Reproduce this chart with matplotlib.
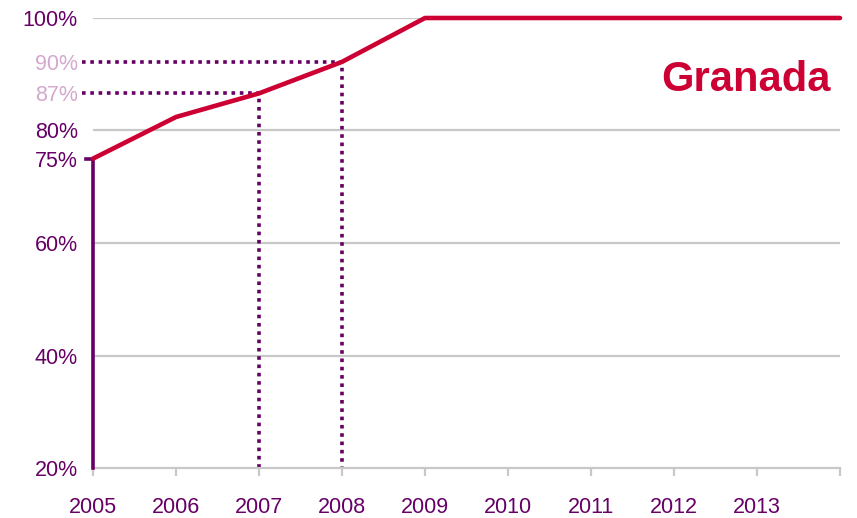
import matplotlib
matplotlib.use("Agg")
import matplotlib.pyplot as plt

# ========= DATOS ==========
anios = [2005, 2006, 2007, 2008, 2009, 2010, 2011, 2012, 2013, 2014]
cobertura = [75, 82.4, 86.6, 92.2, 100, 100, 100, 100, 100, 100]
etiquetas_x = ["2005", "2006", "2007", "2008", "2009", "2010", "2011", "2012", "2013", ""]
grid_y = [20, 40, 60, 80, 100]
# (año, nivel dibujado, etiqueta)
marcas = [(2007, 86.6, "87%"), (2008, 92.2, "90%")]
inicio = (2005, 75)
titulo = "Granada"
# ==========================

MORADO = "#660066"
ROJO = "#CC0033"
ROSA = "#D4A8CF"
GRIS = "#C8C8C8"

plt.rcParams["font.family"] = ["Liberation Sans", "DejaVu Sans"]

fig = plt.figure(figsize=(8.57, 5.18), dpi=100)
ax = fig.add_axes([93 / 857, 50 / 518, 747 / 857, 450 / 518])
ax.set_xlim(anios[0], anios[-1])
ax.set_ylim(20, 100)

# lineas de cuadricula
for g in grid_y[1:]:
    ax.axhline(g, color=GRIS, lw=1.6, zorder=1)

# marcas punteadas
for x, y, _ in marcas:
    ax.plot([anios[0] - 0.13, x, x], [y, y, grid_y[0]], color=MORADO, lw=2.6,
            linestyle=(0, (1, 1.3)), dash_capstyle="butt", clip_on=False, zorder=2)

# linea solida inicial
ax.plot([inicio[0] - 0.085, inicio[0], inicio[0]], [inicio[1], inicio[1], grid_y[0]],
        color=MORADO, lw=2.6, clip_on=False, solid_joinstyle="miter", zorder=3)

# serie principal
ax.plot(anios, cobertura, color=ROJO, lw=3.3, solid_capstyle="round", clip_on=False, zorder=4)

# ejes
for s in ["top", "right", "left"]:
    ax.spines[s].set_visible(False)
ax.spines["bottom"].set_color(GRIS)
ax.spines["bottom"].set_linewidth(1.6)
ax.set_xticks(anios)
ax.set_xticklabels(etiquetas_x)
ax.tick_params(axis="x", colors=GRIS, length=6, width=1.6, pad=15, labelsize=15.5,
               labelcolor=MORADO)

ticks_y = [20, 40, 60, inicio[1], 80, 100] + [m[1] for m in marcas]
textos_y = [f"{t}%" for t in [20, 40, 60, inicio[1], 80, 100]] + [m[2] for m in marcas]
ax.set_yticks(ticks_y)
ax.set_yticklabels(textos_y)
ax.tick_params(axis="y", length=0, pad=11, labelsize=15.5, labelcolor=MORADO)
for lbl, t in zip(ax.get_yticklabels(), textos_y):
    if t in [m[2] for m in marcas]:
        lbl.set_color(ROSA)

ax.text(0.987, 0.862, titulo, transform=ax.transAxes, ha="right", va="center",
        fontsize=30, fontweight="bold", color=ROJO)

fig.savefig("out.png", dpi=100)
